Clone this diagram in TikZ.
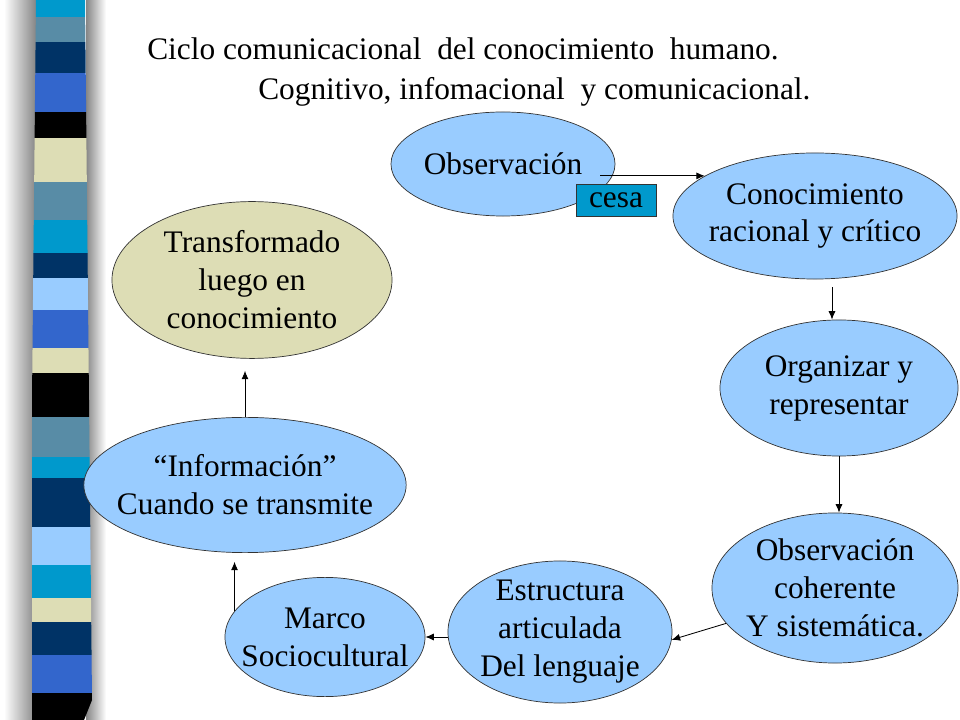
\documentclass[tikz,border=0pt]{standalone}
\usepackage{fontspec}
\setmainfont{Liberation Serif}
\usetikzlibrary{shapes.geometric,arrows.meta}
\definecolor{bubble}{RGB}{153,204,255}
\definecolor{khaki}{RGB}{221,221,181}
\definecolor{cyanband}{RGB}{0,153,204}
\definecolor{steelband}{RGB}{88,140,166}
\definecolor{navyband}{RGB}{0,51,102}
\definecolor{royalband}{RGB}{51,102,204}

\begin{document}
\begin{tikzpicture}[x=0.025cm,y=-0.025cm,>={Latex[length=6pt,width=5pt]},
   font=\fontsize{22.3}{27}\selectfont,
   blob/.style={ellipse,draw=black!80,line width=0.5pt,fill=bubble,align=center,inner sep=-10pt},
   tag/.style={draw=black!80,line width=0.5pt,fill=cyanband,inner sep=0pt,minimum width=2cm,minimum height=0.8cm}]
   \useasboundingbox (0,0) rectangle (960,720);
   % striped bar on the left
   \shade[left color=white,right color=gray!95] (4,0) rectangle (36,720);
   \shade[left color=gray!95,right color=white] (86,0) rectangle (106,720);
   \begin{scope}
   \clip (36,0) -- (85,0) -- (92,700) -- (84,720) -- (32,720) -- (32,400) -- cycle;
   \foreach \ya/\yb/\col in {0/17/cyanband,17/42/steelband,42/73/navyband,73/112/royalband,
      112/138/black,138/182/khaki,182/220/steelband,220/253/cyanband,253/278/navyband,
      278/310/bubble,310/348/royalband,348/373/khaki,373/417/black,417/457/steelband,
      457/478/cyanband,478/527/navyband,527/565/bubble,565/598/cyanband,598/622/khaki,
      622/655/navyband,655/693/royalband,693/720/black}
      \fill[\col] (20,\ya) rectangle (100,\yb);
   \end{scope}
   % titles
   \node[anchor=base west,inner sep=0pt] (title) at (147,60) {Ciclo comunicacional\ \ del conocimiento\ \ humano.};
   \node[anchor=base west,inner sep=0pt] (subtitle) at (258,100) {Cognitivo, infomacional\ \ y comunicacional.};
   % cycle
   \node[blob,minimum width=5.6cm,minimum height=2.6cm] (obs) at (503,164) {Observación};
   \node[blob,minimum width=7.1cm,minimum height=3.15cm] (con) at (815,216) {Conocimiento\\racional y crítico};
   \node[blob,minimum width=5.95cm,minimum height=3.4cm] (org) at (839,388) {Organizar y\\representar};
   \node[blob,minimum width=6.15cm,minimum height=3.75cm] (obs2) at (835,588) {Observación\\coherente\\Y sistemática.};
   \node[blob,minimum width=5.6cm,minimum height=3.55cm] (estr) at (560,632) {Estructura\\articulada\\Del lenguaje};
   \node[blob,minimum width=5cm,minimum height=2.98cm] (marco) at (325,637) {Marco\\Sociocultural};
   \node[blob,minimum width=7.8cm,minimum height=3.38cm] (info) at (245,485) {``Información''\\Cuando se transmite};
   \node[blob,fill=khaki,minimum width=7cm,minimum height=3.92cm] (trans) at (252,280) {Transformado\\luego en\\conocimiento};
   \node[tag] (cesa) at (616,200) {cesa};
   \coordinate (obsout) at (600,0);
   \coordinate (conout) at ([shift={(17,8)}]con.south);
   \path[->,line width=0.6pt]
   (obsout |- con.160) edge (con.160)
   (conout) edge (conout |- org.north)
   (org.south) edge (org.south |- obs2.north)
   (obs2.198) edge (estr.-4)
   (estr.west |- marco.east) edge (marco.east)
   (marco.164) edge [shorten >=0.22cm] (marco.164 |- info.south)
   (info.north) edge [shorten >=0.3cm] (info.north |- trans.south);
\end{tikzpicture}
\end{document}
